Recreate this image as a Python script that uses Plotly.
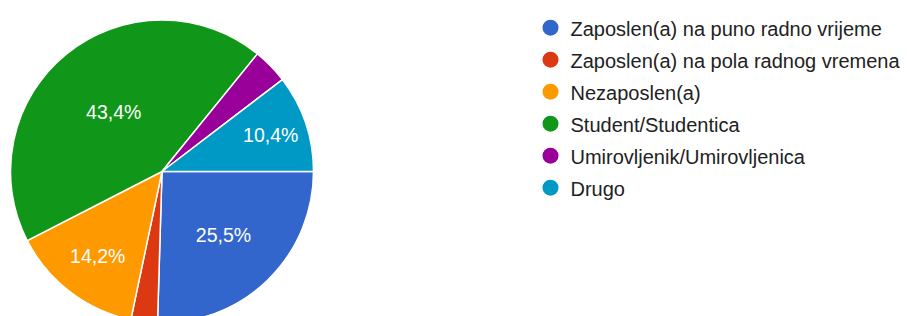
import plotly.graph_objects as go

categories = [
    "Zaposlen(a) na puno radno vrijeme",
    "Zaposlen(a) na pola radnog vremena",
    "Nezaposlen(a)",
    "Student/Studentica",
    "Umirovljenik/Umirovljenica",
    "Drugo",
]
counts = [27, 3, 15, 46, 4, 11]
colors = ["#3366cc", "#dc3912", "#ff9900", "#109618", "#990099", "#0099c6"]
show_label = [True, False, True, True, False, True]

# page body has an 8px default margin; figure is laid out to compensate
W, H = 908, 315
FONT = "Liberation Sans, Arial, sans-serif"
TOP = 7

fig = go.Figure()
fig.add_trace(go.Pie(
    labels=categories,
    values=counts,
    sort=False,
    direction="clockwise",
    rotation=90,
    marker=dict(colors=colors, line=dict(color="white", width=1.5)),
    texttemplate=["%{percent:.1%}" if s else "" for s in show_label],
    textposition="inside",
    insidetextorientation="horizontal",
    textfont=dict(color="white", size=19.5, family=FONT),
    showlegend=False,
    hoverinfo="label+percent",
    domain=dict(x=[0, 308 / W], y=[0, 1]),
))

for name, col in zip(categories, colors):
    fig.add_trace(go.Scatter(
        x=[None], y=[None], mode="markers", name=name,
        legendgroup=name,
        marker=dict(color=col, size=20, symbol="circle"),
    ))

plot_h = H - TOP
legend_top_fy = -5
fig.update_layout(
    width=W, height=H,
    margin=dict(l=0, r=0, t=TOP, b=0),
    paper_bgcolor="white", plot_bgcolor="white",
    separators=",.",
    xaxis=dict(visible=False), yaxis=dict(visible=False),
    legend=dict(
        x=522.5 / W, xanchor="left",
        y=1 + (TOP - legend_top_fy) / plot_h, yanchor="top",
        font=dict(size=20, family=FONT, color="#222222"),
        tracegroupgap=3,
        maxheight=600,
        itemclick=False, itemdoubleclick=False,
    ),
    showlegend=True,
)

fig.write_html("out.html")
